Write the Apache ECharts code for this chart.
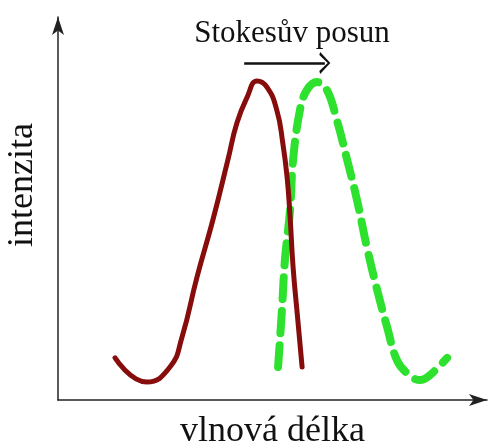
<!DOCTYPE html>
<html>
<head>
<meta charset="utf-8">
<script src="https://cdn.jsdelivr.net/npm/echarts@6/dist/echarts.min.js"></script>
<style>html,body{margin:0;padding:0;background:#fff;}#c{width:488px;height:444px;}</style>
</head>
<body>
<div id="c"></div>
<script>
// Absorption spectrum (solid dark red) — [wavelength, intensity]
const absorptionX = [13.3, 20.7, 26.1, 28.9, 32.4, 36.1, 39.6, 41.7, 44.1, 46.4, 48.7, 51.0, 52.4, 53.4, 54.1, 54.8, 55.9, 56.9];
const absorptionY = [11.0, 4.7, 8.6, 16.4, 32.1, 47.0, 62.7, 72.3, 79.1, 83.3, 81.7, 75.7, 67.1, 58.2, 47.8, 34.7, 20.9, 8.6];
// Emission spectrum (dashed green)
const emissionX = [51.3, 52.2, 52.9, 54.1, 54.8, 56.4, 58.0, 60.4, 62.7, 65.0, 67.4, 69.7, 72.0, 74.4, 76.7, 79.0, 81.4, 84.4, 86.7, 90.7];
const emissionY = [8.6, 23.5, 36.6, 49.6, 62.7, 75.7, 80.9, 83.0, 80.9, 73.1, 62.7, 52.2, 39.9, 28.7, 19.1, 10.4, 7.0, 5.2, 6.5, 11.0];
// Stokes shift arrow: from -> to (wavelength), at intensity level
const shiftFrom = 43.4, shiftTo = 62.2, shiftLevel = 88;
const titleText = 'Stokesův posun';
const xName = 'vlnová délka';
const yName = 'intenzita';

const zip = (a, b) => a.map((v, i) => [v, b[i]]);
const serif = '"Liberation Serif", "DejaVu Serif", serif';

const chart = echarts.init(document.getElementById('c'), null, {renderer: 'canvas'});
chart.setOption({
  animation: false,
  backgroundColor: '#fff',
  title: {
    text: titleText,
    left: 287, top: 13, textAlign: 'center',
    textStyle: {fontFamily: serif, fontSize: 31, fontWeight: 'normal', color: '#111'}
  },
  grid: {left: 58, right: 1, top: 17, bottom: 44, outerBoundsMode: 'none', containLabel: false},
  xAxis: {
    type: 'value', min: 0, max: 100,
    name: xName, nameLocation: 'middle', nameGap: 14,
    nameTextStyle: {fontFamily: serif, fontSize: 36, color: '#111'},
    axisLine: {show: true, symbol: ['none', 'arrow'], symbolSize: [9, 18], lineStyle: {color: '#222', width: 1.5}},
    axisTick: {show: false}, axisLabel: {show: false}, splitLine: {show: false}
  },
  yAxis: {
    type: 'value', min: 0, max: 100,
    axisLine: {show: true, symbol: ['none', 'arrow'], symbolSize: [9, 18], lineStyle: {color: '#222', width: 1.5}},
    axisTick: {show: false}, axisLabel: {show: false}, splitLine: {show: false}
  },
  graphic: [{
    type: 'text', x: 23, y: 185, rotation: Math.PI / 2,
    style: {text: yName, font: '36px ' + serif, fill: '#111', align: 'center', verticalAlign: 'middle'}
  }],
  series: [
    {
      type: 'line', data: zip(absorptionX, absorptionY), smooth: 0.5, showSymbol: false,
      lineStyle: {color: '#870c0c', width: 5, cap: 'round', join: 'round'}, z: 3
    },
    {
      type: 'line', data: zip(emissionX, emissionY), smooth: 0.4, showSymbol: false,
      lineStyle: {color: '#2fe12f', width: 8, type: [22, 12], cap: 'round', join: 'round'}, z: 2
    },
    {
      type: 'line', data: [], silent: true,
      markLine: {
        silent: true, animation: false,
        symbol: ['none', 'path://M0,10 L5,0 L10,10 L8.6,10.8 L5,2.6 L1.4,10.8 Z'],
        symbolSize: [22, 11],
        label: {show: false},
        lineStyle: {color: '#111', width: 2.5, type: 'solid'},
        data: [[{coord: [shiftFrom, shiftLevel]}, {coord: [shiftTo, shiftLevel]}]]
      }
    }
  ]
});
</script>
</body>
</html>
